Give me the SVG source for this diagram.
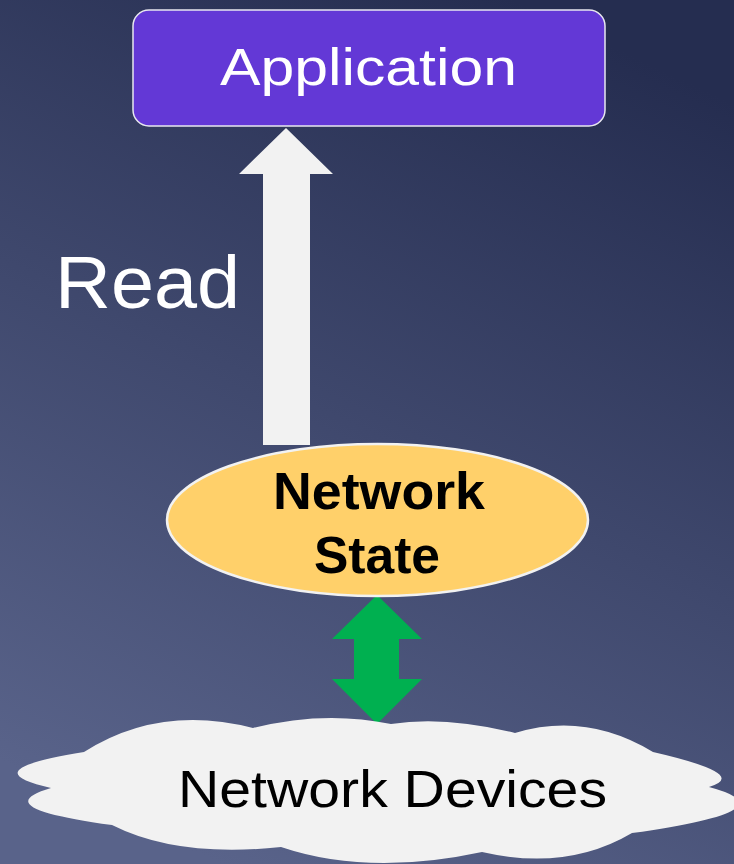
<svg xmlns="http://www.w3.org/2000/svg" width="734" height="864" viewBox="0 0 734 864">
  <defs>
    <linearGradient id="bg" x1="0.7" y1="0" x2="0.3" y2="1">
      <stop offset="0" stop-color="#252d50"/>
      <stop offset="1" stop-color="#59638a"/>
    </linearGradient>
  </defs>
  <style>
    .label { font-family: "Liberation Sans", Arial, sans-serif; }
    .light { fill: #ffffff; }
    .dark { fill: #000000; font-weight: bold; }
    .cloud { fill: #f2f2f2; }
  </style>

  <!-- slide background -->
  <rect x="0" y="0" width="734" height="864" fill="url(#bg)"/>

  <!-- block arrows -->
  <g id="connectors">
    <polygon id="read-arrow" points="286,128 333,174 310,174 310,445 263,445 263,174 239,174" fill="#f2f2f2"/>
    <text class="label light" x="55" y="308" font-size="74" textLength="185" lengthAdjust="spacingAndGlyphs">Read</text>
    <polygon id="sync-arrow" points="377,595 422,639 399,639 399,679 422,679 377,724 332,679 354,679 354,639 332,639" fill="#00b050"/>
  </g>

  <g id="application">
    <rect x="133" y="10" width="472" height="116" rx="16" fill="#6338d6" stroke="#e8e8f0" stroke-width="1.5"/>
    <text class="label light" x="220" y="85" font-size="52" textLength="297" lengthAdjust="spacingAndGlyphs">Application</text>
  </g>

  <g id="network-state">
    <ellipse cx="377.5" cy="520" rx="210.5" ry="76" fill="#ffd06a" stroke="#f2f2f2" stroke-width="2.5"/>
    <text class="label dark" x="379" y="509" font-size="52" text-anchor="middle" textLength="212" lengthAdjust="spacingAndGlyphs">Network</text>
    <text class="label dark" x="377" y="573" font-size="52" text-anchor="middle" textLength="126" lengthAdjust="spacingAndGlyphs">State</text>
  </g>

  <g id="network-devices">
    <path class="cloud" d="M84,752 Q159.5,704 253,728 Q324,710 391,724 Q445,715.5 515,733 Q586,711.5 653,752 Q751,774.5 709,787 Q795.5,810 632,833 Q567,871.5 482,852 Q368.5,876.5 281,847 Q177.5,858 112,825 Q-15.5,807.5 51,788 Q-29.5,770 84,752 Z"/>
    <text class="label" x="178" y="807" font-size="52" fill="#000000" textLength="429" lengthAdjust="spacingAndGlyphs">Network Devices</text>
  </g>
</svg>
